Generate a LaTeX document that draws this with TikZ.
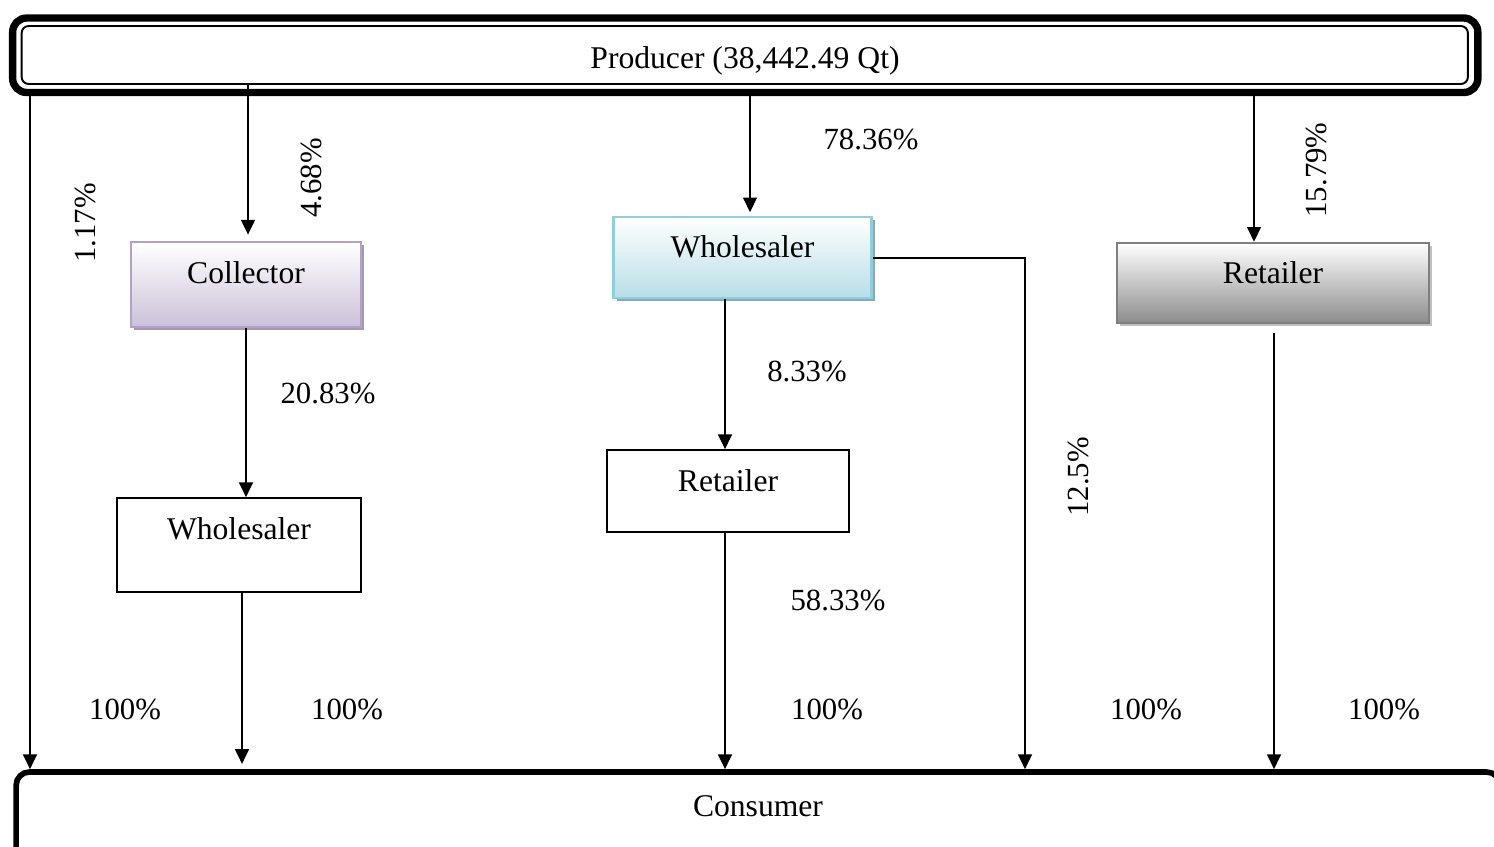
\documentclass[tikz,border=0pt]{standalone}
\usepackage{fontspec}
\setmainfont{Liberation Serif}
\usetikzlibrary{arrows.meta,shadows}
\definecolor{collbot}{HTML}{CCC1DA}
\definecolor{collbrd}{HTML}{B3A2C7}
\definecolor{collsh}{HTML}{A39AB2}
\definecolor{bluebot}{HTML}{B7DEE8}
\definecolor{bluebrd}{HTML}{92CDDC}
\definecolor{bluesh}{HTML}{8FA8AF}
\definecolor{graybot}{HTML}{8C8C8C}
\definecolor{graybrd}{HTML}{7F7F7F}
\definecolor{graysh}{HTML}{C0C0C0}
\begin{document}
\begin{tikzpicture}[x=0.02cm,y=-0.02cm,
  every node/.style={font=\fontsize{18}{21}\selectfont},
  pct/.style={font=\fontsize{17.5}{21}\selectfont, inner sep=0pt},
  conn/.style={line width=1.2pt, -{Triangle[width=7.8pt,length=8.4pt]}},
  box/.style={rectangle, inner sep=0pt, text depth=12pt},
  plainbox/.style={box, draw=black, line width=0.9pt},
  collbox/.style={box, draw=collbrd, line width=1.4pt, top color=white, bottom color=collbot,
    general shadow={fill=collsh, draw=none, shadow xshift=1.8pt, shadow yshift=-1.8pt}},
  bluebox/.style={box, draw=bluebrd, line width=1.4pt, top color=white, bottom color=bluebot,
    general shadow={fill=bluesh, draw=none, shadow xshift=1.8pt, shadow yshift=-1.8pt}},
  graybox/.style={box, draw=graybrd, line width=1.4pt, top color=white, bottom color=graybot,
    general shadow={fill=graysh, draw=none, shadow xshift=1.8pt, shadow yshift=-1.8pt}}
]
\useasboundingbox (0,0) rectangle (1494,846);
\clip (0,0) rectangle (1494,846);

% Producer
\node[draw, line width=4.2pt, rounded corners=8pt, minimum width=29.31cm, minimum height=1.49cm, inner sep=0pt] (prodO) at (745.25,55.25) {};
\node[draw, line width=1.1pt, rounded corners=4pt, minimum width=28.93cm, minimum height=1.16cm, inner sep=0pt] (prod) at (744.75,55) {};
\node[inner sep=0pt] (prodtext) at (745,61) {Producer (38,442.49 Qt)};

% Boxes
\node[collbox, minimum width=4.6cm, minimum height=1.7cm, text depth=13.5pt] (coll) at (246,284.5) {Collector};
\node[bluebox, minimum width=5.16cm, minimum height=1.62cm] (whb) at (742.5,257.5) {Wholesaler};
\node[graybox, minimum width=6.24cm, minimum height=1.6cm] (retg) at (1273,283) {Retailer};
\node[plainbox, minimum width=4.88cm, minimum height=1.88cm, text depth=19pt] (whw) at (239,545) {Wholesaler};
\node[plainbox, minimum width=4.84cm, minimum height=1.64cm] (retw) at (728,491) {Retailer};

% Consumer
\node[draw, line width=3.2pt, rounded corners=7.5pt, minimum width=29.68cm, minimum height=2.56cm, inner sep=0pt, text depth=34pt] (cons) at (758,836) {Consumer};

% Connectors
\draw[conn] (prodO.south -| 30,0) -- (cons.north -| 30,0);
\draw[conn, shorten >=3.5pt] (prod.south -| 248,0) -- (coll.north -| 248,0);
\draw[conn, shorten >=2pt] (prodO.south -| 750,0) -- (whb.north -| 750,0);
\draw[conn] (prodO.south -| 1254,0) -- (retg.north -| 1254,0);
\draw[conn] (coll.south -| 246,0) -- (whw.north -| 246,0);
\draw[conn, shorten >=3pt] (whw.south -| 242,0) -- (cons.north -| 242,0);
\draw[conn] (whb.south -| 725,0) -- (retw.north -| 725,0);
\draw[conn] (retw.south -| 725,0) -- (cons.north -| 725,0);
\coordinate (bend) at (1025,258);
\draw[conn] (whb.east |- bend) -- (bend) -- (cons.north -| bend);
\draw[conn, shorten <=5pt] (retg.south -| 1274,0) -- (cons.north -| 1274,0);

% Labels
\node[pct, rotate=90] (l1) at (85,223) {1.17\%};
\node[pct, rotate=90] (l2) at (311,178) {4.68\%};
\node[pct] (l3) at (871,139) {78.36\%};
\node[pct, rotate=90] (l4) at (1316,170) {15.79\%};
\node[pct] (l5) at (328,393) {20.83\%};
\node[pct] (l6) at (807,371) {8.33\%};
\node[pct, rotate=90] (l7) at (1078,477) {12.5\%};
\node[pct] (l8) at (838,600) {58.33\%};
\node[pct] (h1) at (125,709) {100\%};
\node[pct] (h2) at (347,709) {100\%};
\node[pct] (h3) at (827,709) {100\%};
\node[pct] (h4) at (1146,709) {100\%};
\node[pct] (h5) at (1384,709) {100\%};
\end{tikzpicture}
\end{document}
